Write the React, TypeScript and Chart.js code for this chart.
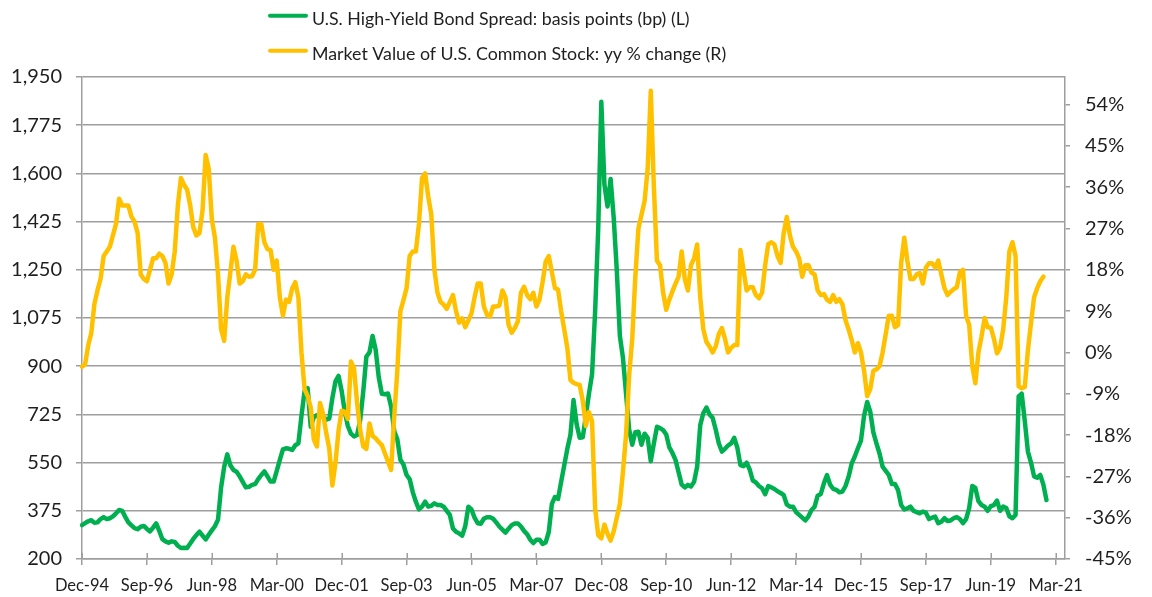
import React, { useEffect, useRef } from "react";
import { Chart, registerables } from "chart.js";

Chart.register(...registerables);

// ---------- DATA ----------
const MONTH_NAMES = ["Jan", "Feb", "Mar", "Apr", "May", "Jun", "Jul", "Aug", "Sep", "Oct", "Nov", "Dec"];
// Monthly categories spanning the axis: Dec-94 .. Jun-21
const AXIS_MONTHS = 319;
const months: string[] = Array.from({ length: AXIS_MONTHS }, (_, i) => {
  const m = (11 + i) % 12;
  const y = 1994 + Math.floor((11 + i) / 12);
  return `${MONTH_NAMES[m]}-${String(y % 100).padStart(2, "0")}`;
});

const xTickLabels = [
  "Dec-94", "Sep-96", "Jun-98", "Mar-00", "Dec-01", "Sep-03", "Jun-05", "Mar-07",
  "Dec-08", "Sep-10", "Jun-12", "Mar-14", "Dec-15", "Sep-17", "Jun-19", "Mar-21",
];
const leftTicks = [200, 375, 550, 725, 900, 1075, 1250, 1425, 1600, 1775, 1950];
const rightTicks = [-45, -36, -27, -18, -9, 0, 9, 18, 27, 36, 45, 54];

const spreadLabel = "U.S. High-Yield Bond Spread: basis points (bp) (L)";
const stockLabel = "Market Value of U.S. Common Stock: yy % change (R)";

// U.S. high-yield bond spread, bp, monthly from Dec-94
const spreadBp = [
  323, 330, 337, 341, 332, 333, 345, 352, 345, 348,
  355, 366, 378, 375, 353, 333, 322, 312, 308, 317,
  320, 309, 300, 314, 329, 302, 272, 264, 259, 264,
  262, 248, 240, 241, 240, 256, 273, 287, 299, 285,
  271, 288, 304, 319, 343, 460, 535, 580, 540, 523,
  517, 500, 480, 460, 462, 469, 472, 490, 505, 518,
  500, 481, 481, 520, 560, 598, 602, 600, 596, 613,
  620, 720, 810, 820, 680, 715, 722, 720, 717, 706,
  710, 785, 845, 865, 810, 735, 683, 655, 645, 650,
  705, 810, 935, 950, 1010, 960, 860, 800, 798, 801,
  753, 665, 635, 560, 543, 505, 490, 443, 408, 380,
  390, 408, 390, 393, 402, 396, 396, 390, 375, 360,
  311, 299, 293, 285, 320, 390, 380, 350, 330, 328,
  346, 352, 352, 346, 333, 318, 307, 296, 310, 323,
  329, 329, 318, 302, 290, 270, 258, 270, 270, 255,
  260, 298, 400, 425, 418, 480, 540, 600, 650, 777,
  690, 640, 642, 720, 800, 870, 1100, 1400, 1860, 1560,
  1480, 1580, 1440, 1250, 1010, 930, 800, 670, 615, 660,
  662, 615, 655, 640, 555, 620, 680, 675, 668, 652,
  605, 585, 560, 515, 470, 460, 469, 463, 480, 535,
  686, 730, 750, 725, 713, 670, 620, 590, 600, 612,
  620, 640, 604, 541, 537, 550, 525, 485, 478, 465,
  457, 435, 465, 460, 454, 446, 440, 432, 398, 390,
  390, 370, 360, 350, 340, 355, 378, 390, 430, 436,
  475, 505, 470, 455, 451, 442, 445, 465, 499, 547,
  572, 602, 630, 720, 770, 735, 660, 620, 583, 535,
  520, 505, 472, 472, 450, 396, 380, 384, 390, 375,
  370, 366, 372, 368, 345, 350, 354, 330, 335, 348,
  338, 340, 348, 352, 345, 330, 345, 385, 465, 458,
  410, 396, 390, 375, 392, 396, 412, 375, 390, 385,
  355, 348, 360, 790, 800, 700, 590, 550, 500, 495,
  505, 470, 414,
];

// Market value of U.S. common stock, year-over-year % change, monthly from Dec-94
const stockYoY = [
  -3.1, -2.6, 1.5, 4.2, 10.5, 13.5, 16, 21, 22, 23,
  25.5, 28, 33.5, 32, 32, 32, 29.6, 28.5, 26, 17,
  16, 15.5, 18, 20.5, 20.5, 21.5, 21, 19.5, 15, 17,
  22, 32, 38, 36.5, 35.5, 32, 27.3, 25.5, 26, 31,
  43, 40, 29, 25, 17, 5, 2.5, 12, 17.5, 23,
  20, 15, 15.5, 17, 16.5, 16.6, 18, 28, 28, 24,
  22.5, 22.3, 18, 20, 12, 8, 11.5, 11, 14, 15.3,
  12, 0, -8, -9.5, -12, -19, -20.5, -11, -13.5, -17.5,
  -21, -29, -24, -17, -12.7, -12.9, -14.5, -2, -3.5, -11,
  -17, -20.5, -21, -15.5, -18.2, -18.7, -19.5, -20.2, -22, -23.8,
  -25.6, -14, -4, 9, 11.4, 14, 21, 22, 22, 28,
  38, 39, 34, 30, 18, 13, 11, 10.4, 9.5, 11,
  12.5, 9, 6.5, 7.4, 5.5, 7, 8.5, 12, 15, 15,
  10, 8.2, 7.8, 10, 10, 10.2, 13.5, 12, 6, 4.3,
  5.3, 6.8, 13, 14.3, 12.5, 11.6, 13, 10, 11.5, 15.3,
  19.8, 21, 17.5, 14, 13.7, 9, 5, 1, -6, -6.6,
  -6.9, -7.1, -10.5, -16, -13, -15, -34, -39.8, -40.5, -37.5,
  -39.5, -41, -39, -36, -33, -26, -18, -5, 3, 16.5,
  27, 30, 33, 40, 57, 36, 20, 19, 13, 9.3,
  11.5, 13.3, 15, 16.5, 22, 16, 13.5, 19, 20.5, 23.5,
  12, 5, 2.3, 1.3, 0, 1.3, 4, 5.3, 3, 0,
  1, 1.6, 1.6, 22.3, 18, 13.5, 14.2, 14.2, 12.5, 11.8,
  13, 19, 23.6, 24, 23.5, 21, 19.5, 26, 29.5, 25.5,
  23, 22, 20.5, 16.5, 19, 19, 17.4, 17, 13.5, 12.5,
  12.7, 11.5, 11, 12.5, 11, 11.6, 10.5, 7, 5, 2.7,
  0, 2, 0, -4, -9.5, -8, -4, -3.7, -3, 0,
  4, 8, 8, 5.5, 6, 19.5, 25, 20, 16, 16,
  17, 17.3, 15, 18.5, 19.4, 19.4, 18.5, 20, 17, 14,
  12.5, 13.2, 13.8, 14.2, 17.5, 18, 8, 6, -3, -6.7,
  0, 3.5, 7.5, 5.5, 5.4, 3, -0.2, 1, 5, 12,
  22, 24, 21, -7.4, -7.8, -7.5, 0.5, 6.4, 12, 14,
  15.5, 16.5,
];

// ---------- STYLE ----------
const GREEN = "#00B050";
const GOLD = "#FFC000";
const GRID = "#9e9e9e";
const TEXT = "#1f1f1f";
const FONT = "Lato, 'Open Sans', sans-serif";
const LINE_W = 4.5;

const legendPlugin = {
  id: "stackedLegend",
  afterDraw(chart: any) {
    const ctx = chart.ctx as CanvasRenderingContext2D;
    const lineX0 = 270;
    const lineX1 = 306;
    const textX = 312;
    const rowGap = 35;
    ctx.save();
    chart.data.datasets.forEach((ds: any, k: number) => {
      const lineY = 15.7 + k * rowGap;
      const baseY = 24.5 + k * rowGap;
      ctx.strokeStyle = ds.borderColor;
      ctx.lineWidth = 4;
      ctx.lineCap = "round";
      ctx.beginPath();
      ctx.moveTo(lineX0, lineY);
      ctx.lineTo(lineX1, lineY);
      ctx.stroke();
      ctx.fillStyle = TEXT;
      ctx.font = `17.8px ${FONT}`;
      ctx.textBaseline = "alphabetic";
      ctx.textAlign = "left";
      ctx.fillText(ds.label, textX, baseY);
    });
    ctx.restore();
  },
};

const innerTickPlugin = {
  id: "innerXTicks",
  beforeDatasetsDraw(chart: any) {
    const scale = chart.scales.x;
    const ctx = chart.ctx as CanvasRenderingContext2D;
    ctx.save();
    ctx.strokeStyle = GRID;
    ctx.lineWidth = 1.5;
    scale.ticks.forEach((_t: any, i: number) => {
      const px = Math.round(scale.getPixelForTick(i)) + 0.25;
      ctx.beginPath();
      ctx.moveTo(px, scale.top);
      ctx.lineTo(px, scale.top - 6);
      ctx.stroke();
    });
    ctx.restore();
  },
};

export default function App() {
  const ref = useRef<HTMLCanvasElement>(null);

  useEffect(() => {
    let chart: Chart | null = null;
    let cancelled = false;
    const make = () => {
      if (cancelled || !ref.current) return;
      chart = new Chart(ref.current, {
        type: "line",
        data: {
          labels: months,
          datasets: [
            {
              label: spreadLabel,
              data: spreadBp,
              borderColor: GREEN,
              backgroundColor: GREEN,
              borderWidth: LINE_W,
              pointRadius: 0,
              tension: 0,
              borderJoinStyle: "round",
              borderCapStyle: "round",
              yAxisID: "y",
              order: 1,
            },
            {
              label: stockLabel,
              data: stockYoY,
              borderColor: GOLD,
              backgroundColor: GOLD,
              borderWidth: LINE_W,
              pointRadius: 0,
              tension: 0,
              borderJoinStyle: "round",
              borderCapStyle: "round",
              yAxisID: "y1",
              order: 0,
            },
          ],
        },
        options: {
          responsive: false,
          maintainAspectRatio: false,
          animation: false,
          events: [],
          layout: { padding: { top: 77, left: 0, right: 0, bottom: 0 } },
          plugins: {
            legend: { display: false },
            tooltip: { enabled: false },
            title: { display: false },
          },
          scales: {
            x: {
              type: "category",
              grid: {
                display: true,
                drawOnChartArea: false,
                drawTicks: true,
                tickLength: 6,
                color: GRID,
                lineWidth: 1.5,
              },
              border: { display: true, color: GRID, width: 1.5 },
              ticks: {
                autoSkip: false,
                maxRotation: 0,
                minRotation: 0,
                padding: 11,
                color: TEXT,
                font: { family: FONT, size: 16.5 },
                callback: (v: any) => months[v as number],
              },
              afterBuildTicks: (s: any) => {
                s.ticks = xTickLabels.map((l) => ({ value: months.indexOf(l) }));
              },
              afterFit: (s: any) => {
                s.height = 38;
                s.paddingLeft = 0;
                s.paddingRight = 0;
              },
            },
            y: {
              type: "linear",
              position: "left",
              min: 200,
              max: 1950,
              grid: { color: GRID, lineWidth: 1.5, drawTicks: true, tickLength: 6 },
              border: { display: true, color: GRID, width: 1.5 },
              ticks: {
                padding: 14,
                color: TEXT,
                font: { family: FONT, size: 20 },
                callback: (v: any) => Number(v).toLocaleString("en-US"),
              },
              afterBuildTicks: (s: any) => {
                s.ticks = leftTicks.map((v) => ({ value: v }));
              },
              afterFit: (s: any) => {
                s.width = 82;
                s.paddingTop = 0;
                s.paddingBottom = 0;
              },
            },
            y1: {
              type: "linear",
              position: "right",
              min: -45,
              max: 60,
              grid: { drawOnChartArea: false, color: GRID, lineWidth: 1.5, drawTicks: true, tickLength: 5 },
              border: { display: true, color: GRID, width: 1.5 },
              ticks: {
                padding: 15,
                color: TEXT,
                font: { family: FONT, size: 20 },
                callback: (v: any) => `${v}%`,
              },
              afterBuildTicks: (s: any) => {
                s.ticks = rightTicks.map((v) => ({ value: v }));
              },
              afterFit: (s: any) => {
                s.width = 87;
                s.paddingTop = 0;
                s.paddingBottom = 0;
              },
            },
          },
        },
        plugins: [legendPlugin, innerTickPlugin],
      } as any);
    };
    const fontsReady = (document as any).fonts
      ? Promise.all([
          (document as any).fonts.load(`17px Lato`),
          (document as any).fonts.load(`20px Lato`),
        ])
      : Promise.resolve();
    fontsReady.then(make, make);
    return () => {
      cancelled = true;
      if (chart) chart.destroy();
    };
  }, []);

  return (
    <div style={{ position: "fixed", left: 0, top: 0, width: 1152, height: 597, background: "#fff" }}>
      <canvas ref={ref} width={1152} height={597} style={{ display: "block", width: 1152, height: 597 }} />
    </div>
  );
}
